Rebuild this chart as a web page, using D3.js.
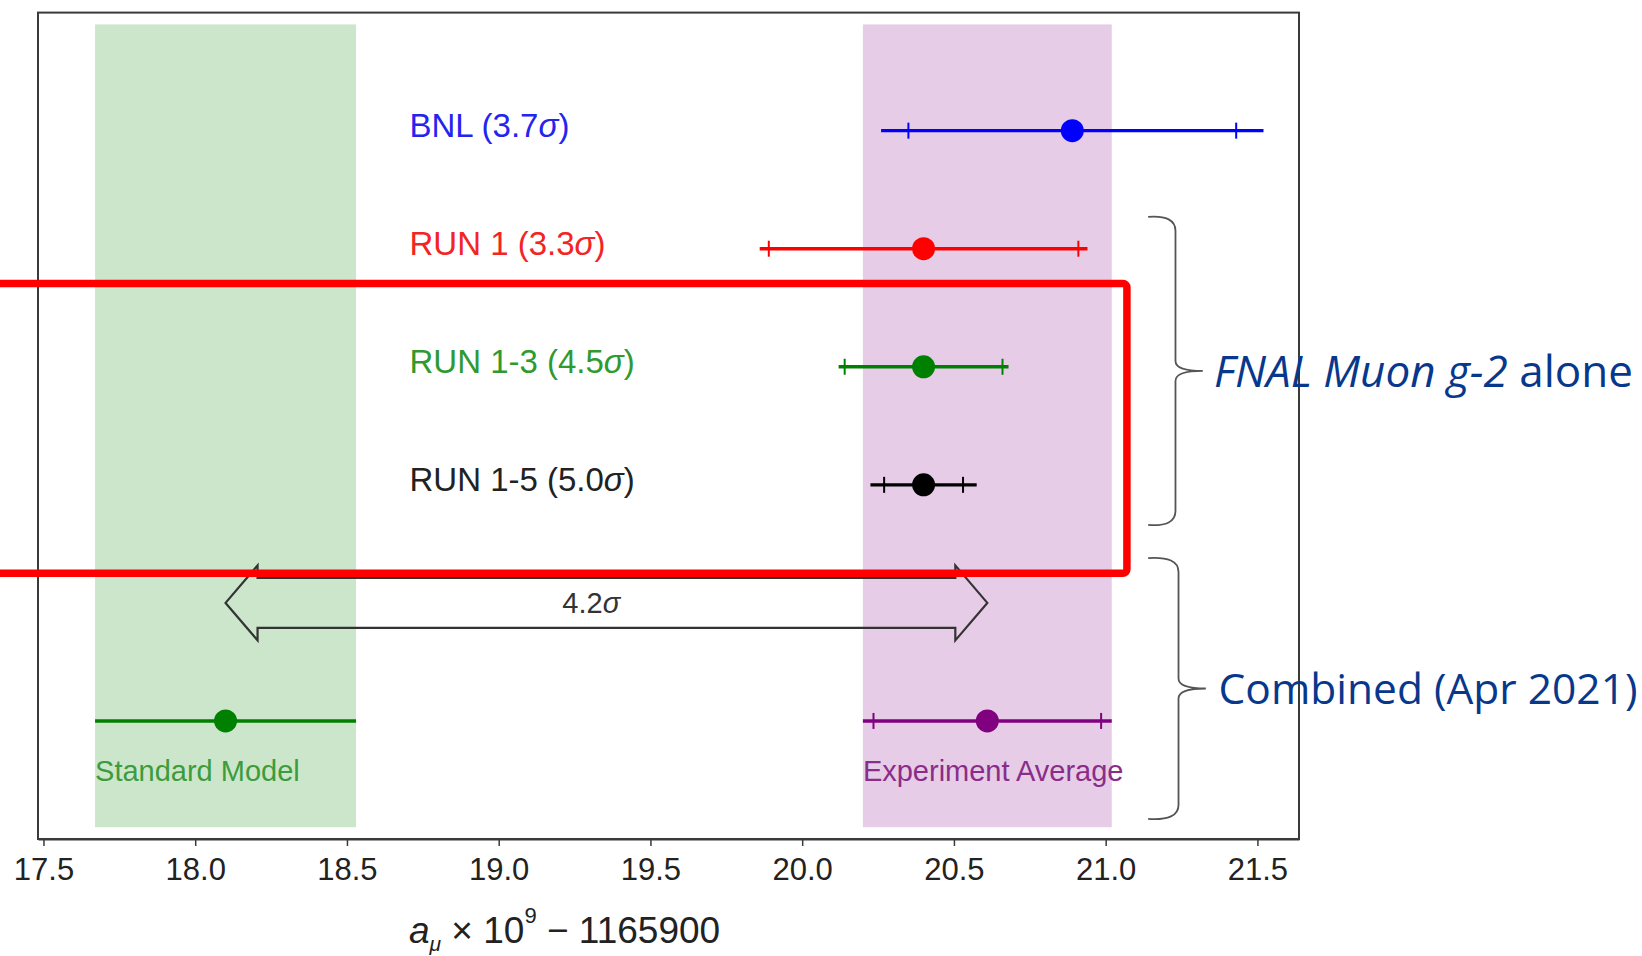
<!DOCTYPE html>
<html>
<head>
<meta charset="utf-8">
<script src="https://cdn.jsdelivr.net/npm/d3@7"></script>
<style>
  body { margin: 0; background: #fff; }
  svg { display: block; }
</style>
</head>
<body>
<svg id="chart"></svg>
<script>
// measurements, one row each (y = row position)
const rowNames = ["BNL", "RUN 1", "RUN 1-3", "RUN 1-5"];
const rowSigma = ["3.7", "3.3", "4.5", "5.0"];
const rowY = [6, 5, 4, 3];
const rowValue = [20.89, 20.40, 20.40, 20.40];
const rowTotalErr = [0.63, 0.54, 0.28, 0.175];
const rowStatErr = [0.54, 0.51, 0.26, 0.13];
const rowColor = ["#0000ff", "#ff0000", "#008000", "#000000"];
const rowTextColor = ["#2424f0", "#f22424", "#2f9a2f", "#222222"];

// theory vs experiment
const refNames = ["Standard Model", "Experiment Average"];
const refValue = [18.10, 20.61];
const refTotalErr = [0.43, 0.41];
const refStatErr = [null, 0.375];
const refColor = ["#008000", "#800080"];
const refTextColor = ["#3c9c3c", "#8a2d8a"];
const refY = 1;

const tension = "4.2";
const xTicks = [17.5, 18.0, 18.5, 19.0, 19.5, 20.0, 20.5, 21.0, 21.5];

const W = 1642, H = 956;
const svg = d3.select("#chart").attr("width", W).attr("height", H);

const x = d3.scaleLinear().domain([17.482, 21.637]).range([38, 1299]);
const y = d3.scaleLinear().domain([0, 7]).range([839, 12.6]);

const refs = refNames.map((name, i) => ({
  name, value: refValue[i], total: refTotalErr[i], stat: refStatErr[i],
  color: refColor[i], textColor: refTextColor[i], y: refY
}));
const rows = rowNames.map((name, i) => ({
  name, sigma: rowSigma[i], value: rowValue[i], total: rowTotalErr[i], stat: rowStatErr[i],
  color: rowColor[i], textColor: rowTextColor[i], y: rowY[i]
}));

// shaded bands
svg.selectAll("rect.band")
  .data(refs)
  .enter()
  .append("rect")
  .attr("class", "band")
  .attr("x", d => x(d.value - d.total))
  .attr("width", d => x(d.value + d.total) - x(d.value - d.total))
  .attr("y", y(6.9))
  .attr("height", y(0.1) - y(6.9))
  .attr("fill", d => d.color)
  .attr("fill-opacity", 0.2);

// frame
svg.append("rect")
  .attr("x", x.range()[0])
  .attr("y", y.range()[1])
  .attr("width", x.range()[1] - x.range()[0])
  .attr("height", y.range()[0] - y.range()[1])
  .attr("fill", "none")
  .attr("stroke", "#3a3a3a")
  .attr("stroke-width", 2);

// x axis
const axis = svg.append("g")
  .attr("transform", `translate(0,${y(0)})`)
  .call(d3.axisBottom(x).tickValues(xTicks).tickFormat(d3.format(".1f"))
    .tickSize(7).tickPadding(12).tickSizeOuter(0));
axis.select(".domain").attr("stroke", "#3a3a3a").attr("stroke-width", 2);
axis.selectAll(".tick line").attr("stroke", "#3a3a3a").attr("stroke-width", 1.5);
axis.selectAll(".tick text")
  .attr("fill", "#222")
  .style("font-family", "'Liberation Sans', Arial, sans-serif")
  .style("font-size", "31px");

// axis label
const xl = svg.append("text")
  .attr("x", 409).attr("y", 943)
  .attr("fill", "#222")
  .style("font-family", "'Liberation Sans', Arial, sans-serif")
  .style("font-size", "37px");
xl.append("tspan").style("font-style", "italic").text("a");
xl.append("tspan").attr("dy", 8).style("font-size", "21px").style("font-style", "italic").text("μ");
xl.append("tspan").attr("dy", -8).text(" × 10");
xl.append("tspan").attr("dy", -20).style("font-size", "22px").text("9");
xl.append("tspan").attr("dy", 20).text(" − 1165900");

// error bars
const drawBars = (sel, data) => {
  const g = sel.selectAll(null)
    .data(data)
    .enter()
    .append("g");
  g.append("line")
    .attr("x1", d => x(d.value - d.total))
    .attr("x2", d => x(d.value + d.total))
    .attr("y1", d => y(d.y))
    .attr("y2", d => y(d.y))
    .attr("stroke", d => d.color)
    .attr("stroke-width", 3.4);
  g.filter(d => d.stat != null)
    .selectAll("line.cap")
    .data(d => [-1, 1].map(s => ({ v: d.value + s * d.stat, y: d.y, color: d.color })))
    .enter()
    .append("line")
    .attr("class", "cap")
    .attr("x1", c => x(c.v)).attr("x2", c => x(c.v))
    .attr("y1", c => y(c.y) - 8).attr("y2", c => y(c.y) + 8)
    .attr("stroke", c => c.color)
    .attr("stroke-width", 2);
  g.append("circle")
    .attr("cx", d => x(d.value))
    .attr("cy", d => y(d.y))
    .attr("r", 11.5)
    .attr("fill", d => d.color);
};
drawBars(svg, rows);
drawBars(svg, refs);

// row labels
const lab = svg.selectAll("text.rowlab")
  .data(rows)
  .enter()
  .append("text")
  .attr("class", "rowlab")
  .attr("x", x(18.706))
  .attr("y", d => y(d.y) - 6)
  .attr("dy", "0.36em")
  .attr("fill", d => d.textColor)
  .style("font-family", "'Liberation Sans', Arial, sans-serif")
  .style("font-size", "33px");
lab.append("tspan").text(d => `${d.name} (${d.sigma}`);
lab.append("tspan").style("font-style", "italic").text("σ");
lab.append("tspan").text(")");

// band labels
svg.selectAll("text.reflab")
  .data(refs)
  .enter()
  .append("text")
  .attr("class", "reflab")
  .attr("x", d => x(d.value - d.total))
  .attr("y", y(0.578))
  .attr("dy", "0.36em")
  .attr("fill", d => d.textColor)
  .style("font-family", "'Liberation Sans', Arial, sans-serif")
  .style("font-size", "29px")
  .text(d => d.name);

// double arrow between SM and experiment
const ax0 = x(refValue[0]), ax1 = x(refValue[1]), ay = y(2);
const head = 32, shaft = 25, wing = 37.5;
const arrowPath = d3.path();
arrowPath.moveTo(ax0, ay);
arrowPath.lineTo(ax0 + head, ay - wing);
arrowPath.lineTo(ax0 + head, ay - shaft);
arrowPath.lineTo(ax1 - head, ay - shaft);
arrowPath.lineTo(ax1 - head, ay - wing);
arrowPath.lineTo(ax1, ay);
arrowPath.lineTo(ax1 - head, ay + wing);
arrowPath.lineTo(ax1 - head, ay + shaft);
arrowPath.lineTo(ax0 + head, ay + shaft);
arrowPath.lineTo(ax0 + head, ay + wing);
arrowPath.closePath();
svg.append("path")
  .attr("d", arrowPath.toString())
  .attr("fill", "none")
  .attr("stroke", "#333")
  .attr("stroke-width", 2.2)
  .attr("stroke-linejoin", "miter");
const at = svg.append("text")
  .attr("x", x(19.305))
  .attr("y", ay)
  .attr("dy", "0.36em")
  .attr("text-anchor", "middle")
  .attr("fill", "#333")
  .style("font-family", "'Liberation Sans', Arial, sans-serif")
  .style("font-size", "29px");
at.append("tspan").text(tension);
at.append("tspan").style("font-style", "italic").text("σ");

// highlight box
svg.append("rect")
  .attr("x", -20)
  .attr("y", y(4.705))
  .attr("width", x(21.07) + 20)
  .attr("height", y(2.25) - y(4.705))
  .attr("rx", 4)
  .attr("fill", "none")
  .attr("stroke", "#ff0000")
  .attr("stroke-width", 7.5);

// curly braces with group labels
const braceTop = [5.27, 2.38];
const braceBottom = [2.66, 0.17];
const braceEnd = [21.14, 21.14];
const braceSpine = [21.23, 21.24];
const braceTip = [21.32, 21.33];
const groupText = [
  [["FNAL Muon g-2", true], [" alone", false]],
  [["Combined (Apr 2021)", false]]
];
const groupTextX = [21.357, 21.372];
const groupFontSize = [44, 42.5];

const bracePath = (i) => {
  const x0 = x(braceEnd[i]), xs = x(braceSpine[i]), xt = x(braceTip[i]);
  const y0 = y(braceTop[i]), y1 = y(braceBottom[i]), ym = (y0 + y1) / 2;
  const p = d3.path();
  p.moveTo(x0, y0);
  p.quadraticCurveTo(xs, y0 - 2, xs, y0 + 14);
  p.lineTo(xs, ym - 10);
  p.quadraticCurveTo(xs, ym, xt, ym);
  p.quadraticCurveTo(xs, ym, xs, ym + 10);
  p.lineTo(xs, y1 - 14);
  p.quadraticCurveTo(xs, y1 + 2, x0, y1);
  return p.toString();
};

braceTop.forEach((t, i) => {
  svg.append("path")
    .attr("d", bracePath(i))
    .attr("fill", "none")
    .attr("stroke", "#555")
    .attr("stroke-width", 1.8);
  const tx = svg.append("text")
    .attr("x", x(groupTextX[i]))
    .attr("y", (y(braceTop[i]) + y(braceBottom[i])) / 2)
    .attr("dy", "0.36em")
    .attr("fill", "#08388c")
    .style("font-family", "'Open Sans', sans-serif")
    .style("font-size", groupFontSize[i] + "px");
  groupText[i].forEach(([s, it]) => {
    tx.append("tspan").style("font-style", it ? "italic" : "normal").text(s);
  });
});
</script>
</body>
</html>
